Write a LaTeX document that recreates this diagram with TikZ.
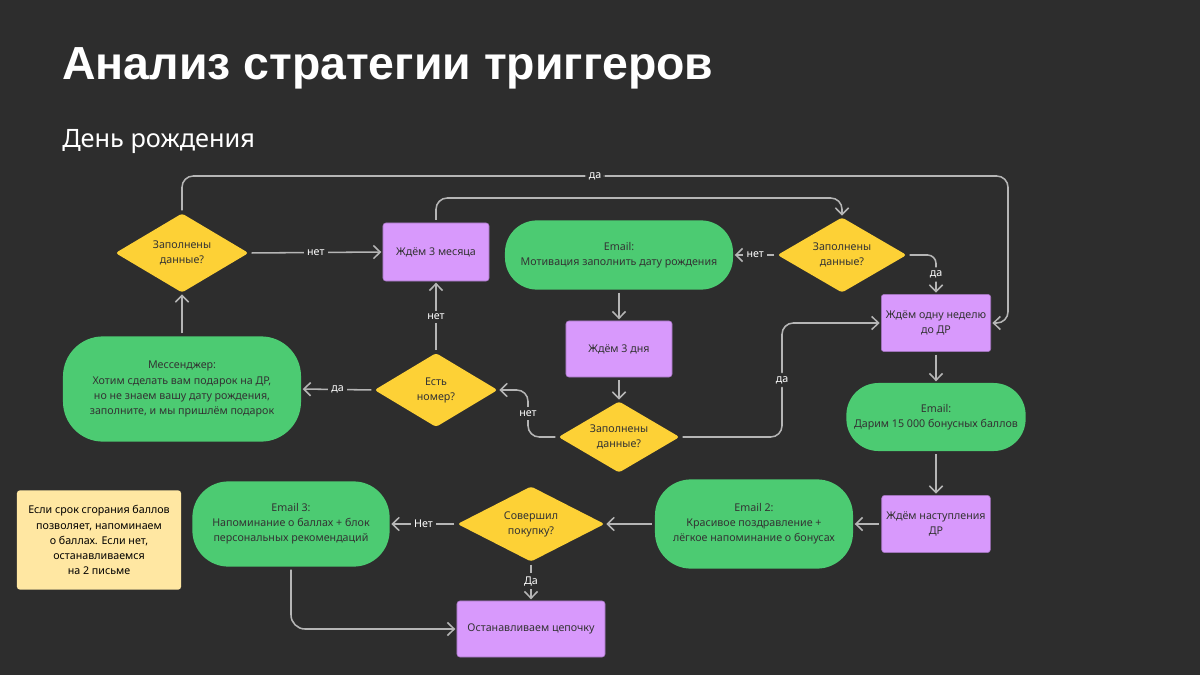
\documentclass[tikz,border=0pt]{standalone}
\usepackage{fontspec}
\setmainfont{Noto Sans}
\newfontfamily\headfont{Liberation Sans}
\usetikzlibrary{
  positioning,
  arrows.meta,
  shapes.geometric
}
\usepackage{xcolor}
\definecolor{bg}{HTML}{2D2D2D}
\definecolor{sunny}{HTML}{FDD136}
\definecolor{mint}{HTML}{4CCB72}
\definecolor{lilac}{HTML}{D899FC}
\definecolor{cream}{HTML}{FFE7A2}
\definecolor{wire}{HTML}{B5B5B5}
\definecolor{ink}{HTML}{333333}
\newcommand\nodefont{\fontsize{7.6}{10.7}\selectfont}

\begin{document}
\begin{tikzpicture}[
  x=0.025cm, y=-0.025cm,
  decision/.style={diamond, aspect=1.7, fill=sunny, inner sep=0pt, rounded corners=2pt,
                   align=center, font=\nodefont, text=ink},
  wait/.style={draw=lilac!75!black, line width=0.4pt, fill=lilac, rounded corners=2pt,
               align=center, font=\nodefont, text=ink},
  email/.style={fill=mint, rounded corners=0.8cm, align=center, font=\nodefont, text=ink},
  arr/.style={-{Straight Barb[length=1.7mm, width=3.3mm]}, line width=1.1pt, wire,
              shorten <=2pt, shorten >=1pt},
  lbl/.style={fill=bg, inner sep=2.5pt, text=white, font=\nodefont}
]
  \fill[bg] (0,0) rectangle (1200,675);
  \useasboundingbox (0,0) rectangle (1200,675);

  \node[anchor=base west, inner sep=0pt, text=white, font=\headfont\bfseries\fontsize{33}{38}\selectfont]
    (title) at (62,80) {Анализ стратегии триггеров};
  \node[anchor=base west, inner sep=0pt, text=white, font=\fontsize{18}{22}\selectfont]
    (subtitle) at (62,148) {День рождения};

  % top row
  \node[decision, minimum width=3.33cm, minimum height=1.98cm] (ask1) at (182,253) {Заполнены\\данные?};
  \node[wait, minimum width=2.65cm, minimum height=1.45cm] (wait3m) at (436,252) {Ждём 3 месяца};
  \node[email, minimum width=5.7cm, minimum height=1.73cm] (mail1) at (619,255) {
    Email:\\
    Мотивация заполнить дату рождения
  };
  \node[decision, minimum width=3.23cm, minimum height=1.88cm] (ask2) at (842,255) {Заполнены\\данные?};
  \node[wait, minimum width=2.65cm, minimum height=1.43cm] (wait1w) at (936,323) {Ждём одну неделю\\до ДР};

  % middle row
  \node[email, rounded corners=1cm, minimum width=5.95cm, minimum height=2.63cm] (msngr) at (182,389) {
    Мессенджер:\\
    Хотим сделать вам подарок на ДР,\\
    но не знаем вашу дату рождения,\\
    заполните, и мы пришлём подарок
  };
  \node[decision, minimum width=3.08cm, minimum height=1.85cm] (phone) at (436,390) {Есть\\номер?};
  \node[wait, minimum width=2.65cm, minimum height=1.4cm] (wait3d) at (619,349) {Ждём 3 дня};
  \node[decision, minimum width=3.03cm, minimum height=1.78cm] (ask3) at (619,437) {Заполнены\\данные?};
  \node[email, minimum width=4.48cm, minimum height=1.7cm] (bonus) at (936,417) {
    Email:\\
    Дарим 15 000 бонусных баллов
  };

  % bottom row
  \node[wait, minimum width=2.63cm, minimum height=1.43cm] (waitdr) at (936,524) {Ждём наступления\\ДР};
  \node[email, rounded corners=0.9cm, minimum width=4.95cm, minimum height=2.23cm] (mail2) at (754,524) {
    Email 2:\\
    Красивое поздравление +\\
    лёгкое напоминание о бонусах
  };
  \node[decision, minimum width=3.68cm, minimum height=1.88cm] (buy) at (531,524) {Совершил\\покупку?};
  \node[email, rounded corners=0.9cm, minimum width=4.93cm, minimum height=2.13cm] (mail3) at (291,524) {
    Email 3:\\
    Напоминание о баллах + блок\\
    персональных рекомендаций
  };
  \node[wait, minimum width=3.7cm, minimum height=1.4cm] (stop) at (531,629) {Останавливаем цепочку};
  \node[fill=cream, rounded corners=2pt, minimum width=4.1cm, minimum height=2.48cm,
        align=center, font=\nodefont, text=black] (tip) at (99,540) {
    Если срок сгорания баллов\\
    позволяет, напоминаем\\
    о баллах. Если нет,\\
    останавливаемся\\
    на 2 письме
  };

  % connectors
  \draw[arr, rounded corners=8pt] (ask1.north) -- (182,176) -- node[lbl] {да} (1008,176)
    -- (1008,323) -- (wait1w.east);
  \draw[arr, rounded corners=8pt] (wait3m.north) -- (436,198) -| (ask2.north);
  \draw[arr] (ask1.east) -- (wait3m.west) node[lbl, midway] {нет};
  \draw[arr] (msngr.north) -- (ask1.south);
  \draw[arr] (phone.west) -- (msngr.east) node[lbl, midway] {да};
  \draw[arr] (phone.north) -- (wait3m.south) node[lbl, midway] {нет};
  \draw[arr] (ask2.west) -- (mail1.east) node[lbl, midway] {нет};
  \draw[arr, rounded corners=6pt] (ask2.east) -| node[lbl, pos=0.75] {да} (wait1w.north);
  \draw[arr] (mail1.south) -- (wait3d.north);
  \draw[arr] (wait3d.south) -- (ask3.north);
  \draw[arr, rounded corners=8pt] (ask3.west) -| node[lbl, pos=0.75] {нет} (528,390) -- (phone.east);
  \draw[arr, rounded corners=8pt] (ask3.east) -| node[lbl, pos=0.75] {да} (782,323) -- (wait1w.west);
  \draw[arr] (wait1w.south) -- (bonus.north);
  \draw[arr] (bonus.south) -- (waitdr.north);
  \draw[arr] (waitdr.west) -- (mail2.east);
  \draw[arr] (mail2.west) -- (buy.east);
  \draw[arr] (buy.west) -- (mail3.east) node[lbl, midway] {Нет};
  \draw[arr] (buy.south) -- (stop.north) node[lbl, midway] {Да};
  \draw[arr, rounded corners=10pt] (mail3.south) |- (stop.west);
\end{tikzpicture}
\end{document}
